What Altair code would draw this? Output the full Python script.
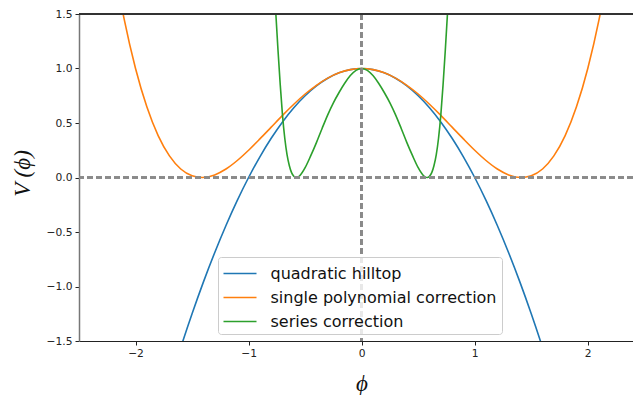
import altair as alt
import pandas as pd

series_names = ["quadratic hilltop", "single polynomial correction", "series correction"]
series_colors = ["#1f77b4", "#ff7f0e", "#2ca02c"]

phi_quad = [-1.7, -1.6, -1.5, -1.4, -1.3, -1.2, -1.1, -1.0, -0.9, -0.8, -0.7, -0.6, -0.5, -0.4,
            -0.3, -0.2, -0.1, 0.0, 0.1, 0.2, 0.3, 0.4, 0.5, 0.6, 0.7, 0.8, 0.9, 1.0, 1.1, 1.2,
            1.3, 1.4, 1.5, 1.6, 1.7]
v_quad = [-1.89, -1.56, -1.25, -0.96, -0.69, -0.44, -0.21, 0.0, 0.19, 0.36, 0.51, 0.64, 0.75, 0.84,
          0.91, 0.96, 0.99, 1.0, 0.99, 0.96, 0.91, 0.84, 0.75, 0.64, 0.51, 0.36, 0.19, 0.0, -0.21, -0.44,
          -0.69, -0.96, -1.25, -1.56, -1.89]

phi_poly = [-2.2, -2.1, -2.0, -1.9, -1.8, -1.7, -1.6, -1.5, -1.41, -1.3, -1.2, -1.1, -1.0, -0.9,
            -0.8, -0.7, -0.6, -0.5, -0.4, -0.3, -0.2, -0.1, 0.0, 0.1, 0.2, 0.3, 0.4, 0.5, 0.6, 0.7,
            0.8, 0.9, 1.0, 1.1, 1.2, 1.3, 1.41, 1.5, 1.6, 1.7, 1.8, 1.9, 2.0, 2.1, 2.2]
v_poly = [2.02, 1.45, 1.0, 0.648, 0.384, 0.198, 0.078, 0.016, 0.0, 0.024, 0.078, 0.156, 0.25, 0.354,
          0.462, 0.570, 0.672, 0.766, 0.846, 0.912, 0.960, 0.990, 1.0, 0.990, 0.960, 0.912, 0.846, 0.766, 0.672, 0.570,
          0.462, 0.354, 0.25, 0.156, 0.078, 0.024, 0.0, 0.016, 0.078, 0.198, 0.384, 0.648, 1.0, 1.45, 2.02]

phi_series = [-0.80, -0.78, -0.76, -0.74, -0.72, -0.70, -0.68, -0.66, -0.64, -0.62, -0.60, -0.58,
              -0.56, -0.54, -0.50, -0.45, -0.40, -0.35, -0.30, -0.25, -0.20, -0.15, -0.10, -0.05,
              0.0, 0.05, 0.10, 0.15, 0.20, 0.25, 0.30, 0.35, 0.40, 0.45, 0.50, 0.54, 0.56,
              0.58, 0.60, 0.62, 0.64, 0.66, 0.68, 0.70, 0.72, 0.74, 0.76, 0.78, 0.80]
v_series = [2.33, 1.91, 1.52, 1.17, 0.85, 0.57, 0.36, 0.21, 0.11, 0.045, 0.012, 0.0,
            0.006, 0.025, 0.09, 0.20, 0.32, 0.45, 0.575, 0.685, 0.78, 0.865, 0.935, 0.983,
            1.0, 0.983, 0.935, 0.865, 0.78, 0.685, 0.575, 0.45, 0.32, 0.20, 0.09, 0.025, 0.006,
            0.0, 0.012, 0.045, 0.11, 0.21, 0.36, 0.57, 0.85, 1.17, 1.52, 1.91, 2.33]

x_ticks = [-2, -1, 0, 1, 2]
y_ticks = [-1.5, -1.0, -0.5, 0.0, 0.5, 1.0, 1.5]
x_domain = [-2.5, 2.40]
y_domain = [-1.5, 1.5]

rows = []
for name, xs, ys in zip(series_names, [phi_quad, phi_poly, phi_series], [v_quad, v_poly, v_series]):
    for i, (x, y) in enumerate(zip(xs, ys)):
        rows.append({"series": name, "phi": x, "V": y, "order": i})
df = pd.DataFrame(rows)

xscale = alt.Scale(domain=x_domain, nice=False, zero=False)
yscale = alt.Scale(domain=y_domain, nice=False, zero=False)

lines = alt.Chart(df).mark_line(clip=True, strokeWidth=1.6, interpolate="monotone").encode(
    x=alt.X("phi:Q", scale=xscale, axis=alt.Axis(
        values=x_ticks, format="d", grid=False, tickSize=4, labelPadding=3,
        labelFont="DejaVu Sans", labelFontSize=10.7, labelColor="#222",
        domainColor="#222", tickColor="#222", domainWidth=1, tickWidth=1,
        title="ϕ", titleFont="Liberation Serif", titleFontStyle="italic",
        titleFontWeight="normal", titleFontSize=23, titleColor="#111",
        titleX=282.5, titleY=49, titleAlign="center", titleBaseline="alphabetic")),
    y=alt.Y("V:Q", scale=yscale, axis=alt.Axis(
        values=y_ticks, format=".1f", grid=False, tickSize=4, labelPadding=3,
        labelFont="DejaVu Sans", labelFontSize=10.7, labelColor="#222",
        domainColor="#777", tickColor="#222", domainWidth=1.5, tickWidth=1,
        title="V (ϕ)", titleFont="Liberation Serif", titleFontStyle="italic",
        titleFontWeight="normal", titleFontSize=23, titleColor="#111",
        titleAngle=270, titleX=-57, titleY=159, titleAlign="center", titleBaseline="middle")),
    color=alt.Color("series:N", sort=series_names,
                    scale=alt.Scale(domain=series_names, range=series_colors),
                    legend=alt.Legend(
                        orient="none", legendX=139, legendY=243, title=None,
                        symbolType="M-1.5,0H1.5", symbolSize=484, symbolStrokeWidth=1.6,
                        symbolOffset=5.5, labelOffset=18.5, rowPadding=4, padding=4.5,
                        labelFont="DejaVu Sans", labelFontSize=16, labelColor="#111",
                        strokeColor="#cccccc", fillColor="rgba(255,255,255,0.8)",
                        cornerRadius=3, labelLimit=400)),
    order="order:Q",
)

zero_h = alt.Chart(df).mark_rule(color="#8a8a8a", strokeWidth=1.4, strokeDash=[6, 3]).encode(
    y=alt.datum(0.0, scale=yscale))
zero_v = alt.Chart(df).mark_rule(color="#8a8a8a", strokeWidth=1.4, strokeDash=[6, 3]).encode(
    x=alt.datum(0.0, scale=xscale))
top_spine = alt.Chart(df).mark_rule(color="#333", strokeWidth=1).encode(
    y=alt.datum(y_domain[1], scale=yscale))

chart = alt.layer(lines, zero_h, zero_v, top_spine).properties(
    width=554, height=327,
    padding={"left": 71, "top": 6, "right": 0, "bottom": 54},
    autosize=alt.AutoSizeParams(type="none"),
).configure_view(stroke=None)

chart.save("out.html", embed_options={"renderer": "svg", "actions": False})
